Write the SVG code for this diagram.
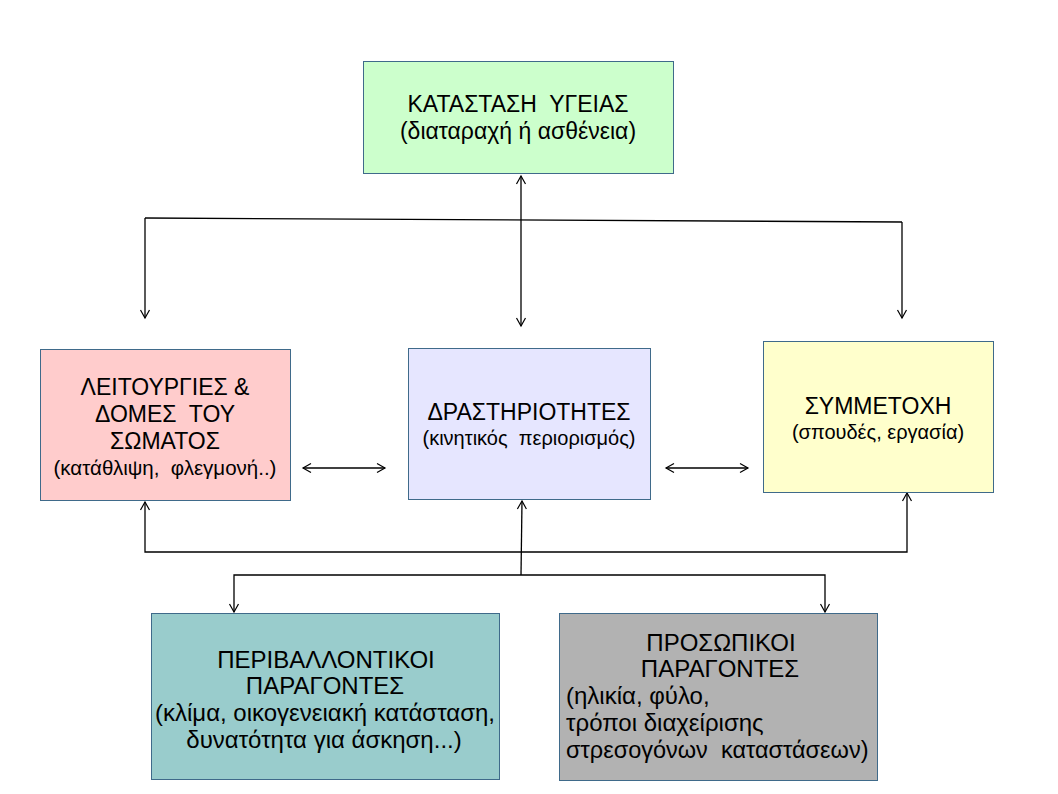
<svg xmlns="http://www.w3.org/2000/svg" width="1058" height="794" viewBox="0 0 1058 794" xml:space="preserve">
<defs>
<marker id="ah" markerWidth="12" markerHeight="12" refX="9" refY="5" orient="auto-start-reverse" markerUnits="userSpaceOnUse" viewBox="0 0 12 10">
<path d="M1,0.5 L9,5 L1,9.5" fill="none" stroke="#000" stroke-width="1.2"/>
</marker>
<style>
.box{stroke:#3f6a8a;stroke-width:1}
text{font-family:"Liberation Sans",Arial,sans-serif;fill:#000;white-space:pre}
.m{font-size:23px;text-anchor:middle}
.s{font-size:20px;text-anchor:middle}
.b{font-size:24px}
.c{text-anchor:middle}
.ln{fill:none;stroke:#000;stroke-width:1.3}
</style>
</defs>
<rect width="1058" height="794" fill="#fff"/>
<g id="connectors" class="ln">
<line x1="145" y1="218" x2="902" y2="222" class="ln"/>
<line x1="521" y1="176" x2="521" y2="326" class="ln" marker-start="url(#ah)" marker-end="url(#ah)"/>
<line x1="145" y1="218" x2="145" y2="318" class="ln" marker-end="url(#ah)"/>
<line x1="902" y1="222" x2="902" y2="318" class="ln" marker-end="url(#ah)"/>
<line x1="303" y1="468" x2="385" y2="468" class="ln" marker-start="url(#ah)" marker-end="url(#ah)"/>
<line x1="666" y1="468" x2="748" y2="468" class="ln" marker-start="url(#ah)" marker-end="url(#ah)"/>
<polyline points="145,502 145,552 907,552 907,493" class="ln" marker-start="url(#ah)" marker-end="url(#ah)"/>
<line x1="521" y1="575" x2="522" y2="501" class="ln" marker-end="url(#ah)"/>
<polyline points="234,612 234,575 825,575 825,612" class="ln" marker-start="url(#ah)" marker-end="url(#ah)"/>
</g>
<g id="health">
<rect class="box" x="363.5" y="61.5" width="310" height="112" fill="#ccffcc"/>
<text class="m" x="518" y="112">ΚΑΤΑΣΤΑΣΗ  ΥΓΕΙΑΣ</text>
<text class="m" x="518" y="139">(διαταραχή ή ασθένεια)</text>
</g>
<g id="body">
<rect class="box" x="40.5" y="349.5" width="250" height="151" fill="#ffcccc"/>
<text class="m" x="165" y="395">ΛΕΙΤΟΥΡΓΙΕΣ &amp;</text>
<text class="m" x="165" y="422">ΔΟΜΕΣ  ΤΟΥ</text>
<text class="m" x="165" y="449">ΣΩΜΑΤΟΣ</text>
<text class="s" x="165" y="475" style="font-size:20.5px">(κατάθλιψη,  φλεγμονή..)</text>
</g>
<g id="activities">
<rect class="box" x="408.5" y="348.5" width="242" height="151" fill="#e6e6ff"/>
<text class="m" x="529" y="420">ΔΡΑΣΤΗΡΙΟΤΗΤΕΣ</text>
<text class="s" x="529" y="445">(κινητικός  περιορισμός)</text>
</g>
<g id="participation">
<rect class="box" x="763.5" y="341.5" width="230" height="151" fill="#ffffcc"/>
<text class="m" x="878" y="414">ΣΥΜΜΕΤΟΧΗ</text>
<text class="s" x="878" y="439">(σπουδές, εργασία)</text>
</g>
<g id="environmental">
<rect class="box" x="151.5" y="613.5" width="348" height="166" fill="#99cccc"/>
<text class="b c" x="326" y="668">ΠΕΡΙΒΑΛΛΟΝΤΙΚΟΙ</text>
<text class="b c" x="325" y="694">ΠΑΡΑΓΟΝΤΕΣ</text>
<text class="b c" x="325" y="721">(κλίμα, οικογενειακή κατάσταση,</text>
<text class="b c" x="324" y="748">δυνατότητα για άσκηση...)</text>
</g>
<g id="personal">
<rect class="box" x="559.5" y="613.5" width="318" height="167" fill="#b2b2b2"/>
<text class="b c" x="721" y="651">ΠΡΟΣΩΠΙΚΟΙ</text>
<text class="b c" x="720" y="677">ΠΑΡΑΓΟΝΤΕΣ</text>
<text class="b" x="566" y="704">(ηλικία, φύλο,</text>
<text class="b" x="566" y="731">τρόποι διαχείρισης</text>
<text class="b" x="566" y="758" style="font-size:23.5px">στρεσογόνων  καταστάσεων)</text>
</g>
</svg>
